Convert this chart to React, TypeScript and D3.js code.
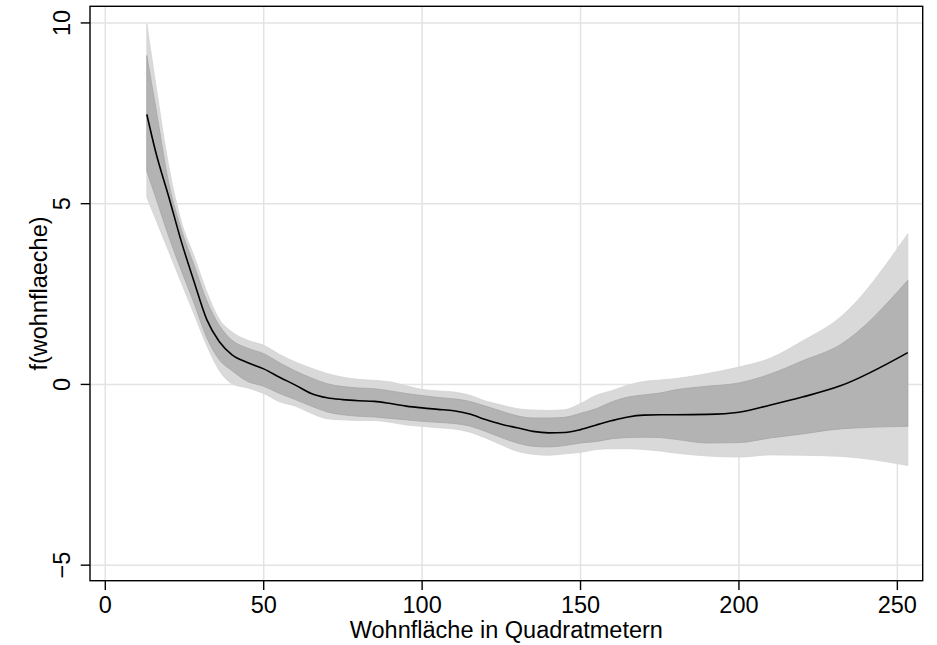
import { useEffect, useRef } from "react";
import * as d3 from "d3";

// Wohnfläche (m²) at which the smooth was evaluated
const wohnflaeche = [
  13.1, 16, 20, 24, 28, 32, 36, 40, 45, 50, 55, 60, 65, 70, 75, 80, 85, 90, 95, 100,
  105, 110, 115, 120, 125, 130, 135, 140, 145, 150, 155, 160, 165, 170, 175, 180,
  190, 200, 210, 220, 232, 253.3,
];
// fitted f(wohnflaeche)
const fit = [
  7.47, 6.4, 5.2, 3.95, 2.85, 1.8, 1.18, 0.82, 0.6, 0.43, 0.2, -0.02, -0.25, -0.37, -0.42,
  -0.45, -0.47, -0.53, -0.6, -0.65, -0.69, -0.73, -0.82, -0.97, -1.1, -1.2, -1.3, -1.34,
  -1.33, -1.25, -1.12, -1.0, -0.9, -0.85, -0.84, -0.84, -0.83, -0.77, -0.57, -0.35, -0.04,
  0.88,
];
// inner band
const innerHi = [
  9.1, 7.62, 5.58, 4.28, 3.3, 2.32, 1.63, 1.22, 1.0, 0.85, 0.6, 0.37, 0.18, 0.02, -0.06,
  -0.1, -0.12, -0.18, -0.25, -0.31, -0.36, -0.4, -0.47, -0.6, -0.74, -0.87, -0.93, -0.93,
  -0.91, -0.8, -0.67, -0.48, -0.35, -0.29, -0.24, -0.15, -0.05, 0.04, 0.29, 0.65, 1.1, 2.88,
];
const innerLo = [
  5.9, 5.15, 4.1, 3.15, 2.25, 1.3, 0.68, 0.38, 0.08, -0.05, -0.25, -0.42, -0.6, -0.76,
  -0.84, -0.88, -0.9, -0.94, -0.98, -1.02, -1.05, -1.08, -1.15, -1.3, -1.47, -1.62, -1.71,
  -1.73, -1.69, -1.62, -1.58, -1.5, -1.47, -1.46, -1.47, -1.52, -1.62, -1.61, -1.48, -1.37,
  -1.23, -1.16,
];
// outer band
const outerHi = [
  9.98, 8.26, 6.05, 4.5, 3.55, 2.57, 1.8, 1.45, 1.22, 1.08, 0.83, 0.62, 0.45, 0.3, 0.2,
  0.14, 0.11, 0.07, -0.04, -0.14, -0.18, -0.21, -0.3, -0.46, -0.57, -0.67, -0.71, -0.72,
  -0.7, -0.53, -0.3, -0.17, -0.02, 0.08, 0.12, 0.16, 0.3, 0.48, 0.73, 1.2, 1.86, 4.17,
];
const outerLo = [
  5.18, 4.55, 3.68, 2.81, 1.95, 1.08, 0.38, 0.02, -0.1, -0.25, -0.48, -0.6, -0.8, -0.95,
  -0.98, -1.0, -1.0, -1.05, -1.12, -1.16, -1.2, -1.23, -1.32, -1.48, -1.67, -1.85, -1.93,
  -1.96, -1.92, -1.88, -1.8, -1.78, -1.78, -1.8, -1.84, -1.9, -1.98, -2.01, -1.95, -1.96,
  -1.99, -2.24,
];

const xTicks = [0, 50, 100, 150, 200, 250];
const yTicks = [-5, 0, 5, 10];
const xTitle = "Wohnfläche in Quadratmetern";
const yTitle = "f(wohnflaeche)";

export default function App() {
  const svgRef = useRef<SVGSVGElement>(null);

  useEffect(() => {
    if (!svgRef.current) return;
    const svg = d3.select(svgRef.current);
    svg.selectAll("*").remove();

    const width = 937;
    const height = 645;
    const margin = { top: 6.3, right: 14.3, bottom: 64.3, left: 90 };
    const font = "'Liberation Sans', Arial, Helvetica, sans-serif";
    const fontSize = 23.5;

    const x = d3
      .scaleLinear()
      .domain([-4.83, 258.0])
      .range([margin.left, width - margin.right]);
    const y = d3
      .scaleLinear()
      .domain([-5.43, 10.46])
      .range([height - margin.bottom, margin.top]);

    const rows = wohnflaeche.map((w, i) => ({
      w,
      fit: fit[i],
      iHi: innerHi[i],
      iLo: innerLo[i],
      oHi: outerHi[i],
      oLo: outerLo[i],
    }));
    type Row = (typeof rows)[number];

    // grid
    const grid = svg.append("g").attr("stroke", "#e3e3e3").attr("stroke-width", 1.5);
    xTicks.forEach((t) =>
      grid
        .append("line")
        .attr("x1", x(t))
        .attr("x2", x(t))
        .attr("y1", margin.top)
        .attr("y2", height - margin.bottom)
    );
    yTicks.forEach((t) =>
      grid
        .append("line")
        .attr("x1", margin.left)
        .attr("x2", width - margin.right)
        .attr("y1", y(t))
        .attr("y2", y(t))
    );

    const curve = d3.curveMonotoneX;

    const outer = d3
      .area<Row>()
      .x((d) => x(d.w))
      .y0((d) => y(d.oLo))
      .y1((d) => y(d.oHi))
      .curve(curve);
    const inner = d3
      .area<Row>()
      .x((d) => x(d.w))
      .y0((d) => y(d.iLo))
      .y1((d) => y(d.iHi))
      .curve(curve);
    const line = d3
      .line<Row>()
      .x((d) => x(d.w))
      .y((d) => y(d.fit))
      .curve(curve);

    svg
      .append("path")
      .datum(rows)
      .attr("fill", "#d9d9d9")
      .attr("stroke", "#d3d3d3")
      .attr("stroke-width", 0.8)
      .attr("d", outer);
    svg
      .append("path")
      .datum(rows)
      .attr("fill", "#b3b3b3")
      .attr("stroke", "#a6a6a6")
      .attr("stroke-width", 0.8)
      .attr("d", inner);
    svg
      .append("path")
      .datum(rows)
      .attr("fill", "none")
      .attr("stroke", "#000")
      .attr("stroke-width", 1.6)
      .attr("d", line);

    // box
    svg
      .append("rect")
      .attr("x", margin.left)
      .attr("y", margin.top)
      .attr("width", width - margin.left - margin.right)
      .attr("height", height - margin.top - margin.bottom)
      .attr("fill", "none")
      .attr("stroke", "#000")
      .attr("stroke-width", 1.4);

    const tickLen = 9.3;
    const axisY = height - margin.bottom;

    // x axis
    xTicks.forEach((t) => {
      svg
        .append("line")
        .attr("x1", x(t))
        .attr("x2", x(t))
        .attr("y1", axisY)
        .attr("y2", axisY + tickLen)
        .attr("stroke", "#000")
        .attr("stroke-width", 1.4);
      svg
        .append("text")
        .attr("x", x(t))
        .attr("y", 613)
        .attr("text-anchor", "middle")
        .attr("font-family", font)
        .attr("font-size", fontSize)
        .attr("fill", "#000")
        .text(String(t));
    });

    // y axis
    yTicks.forEach((t) => {
      svg
        .append("line")
        .attr("x1", margin.left - tickLen)
        .attr("x2", margin.left)
        .attr("y1", y(t))
        .attr("y2", y(t))
        .attr("stroke", "#000")
        .attr("stroke-width", 1.4);
      svg
        .append("text")
        .attr("transform", `translate(70,${y(t)}) rotate(-90)`)
        .attr("text-anchor", "middle")
        .attr("font-family", font)
        .attr("font-size", fontSize)
        .attr("fill", "#000")
        .text(t < 0 ? `\u2212${Math.abs(t)}` : String(t));
    });

    svg
      .append("text")
      .attr("x", (margin.left + width - margin.right) / 2)
      .attr("y", 638)
      .attr("text-anchor", "middle")
      .attr("font-family", font)
      .attr("font-size", fontSize)
      .attr("fill", "#000")
      .text(xTitle);

    svg
      .append("text")
      .attr(
        "transform",
        `translate(47,${(margin.top + height - margin.bottom) / 2}) rotate(-90)`
      )
      .attr("text-anchor", "middle")
      .attr("font-family", font)
      .attr("font-size", fontSize)
      .attr("fill", "#000")
      .text(yTitle);
  }, []);

  return (
    <svg
      ref={svgRef}
      width={937}
      height={645}
      style={{ position: "absolute", left: 0, top: 0, background: "#fff" }}
    />
  );
}
